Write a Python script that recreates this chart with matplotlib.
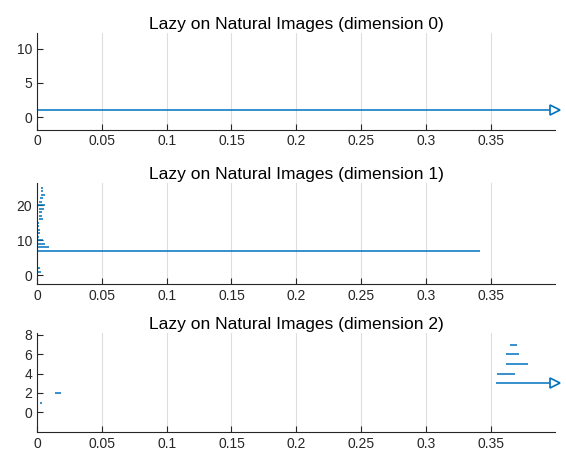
import numpy as np
import matplotlib
matplotlib.use("Agg")
import matplotlib.pyplot as plt

# -------------------------------
# DATA (persistence intervals)
# -------------------------------
INF = np.inf

dim0_birth = [0.0, 0.0, 0.0, 0.0, 0.0, 0.0, 0.0, 0.0, 0.0, 0.0, 0.0]
dim0_death = [INF, 0.0008, 0.0008, 0.0008, 0.0008, 0.0008, 0.0008, 0.0008, 0.0008, 0.0008, 0.0008]

dim1_birth = [0.0, 0.0, 0.0, 0.0, 0.0, 0.0, 0.0, 0.0, 0.0, 0.0,
              0.0, 0.0, 0.0, 0.0, 0.0, 0.0012, 0.0012, 0.0012, 0.0015, 0.0,
              0.0015, 0.0023, 0.003, 0.003, 0.003]
dim1_death = [0.003, 0.002, 0.001, 0.0008, 0.001, 0.001, 0.3415, 0.0095, 0.0064, 0.0046,
              0.0018, 0.002, 0.002, 0.0018, 0.0015, 0.005, 0.004, 0.004, 0.0056, 0.006,
              0.0039, 0.0049, 0.0064, 0.0046, 0.0049]

dim2_birth = [0.0023, 0.0139, 0.354, 0.3545, 0.362, 0.362, 0.365]
dim2_death = [0.0039, 0.0185, INF, 0.3685, 0.379, 0.372, 0.370]

titles = ["Lazy on Natural Images (dimension 0)",
          "Lazy on Natural Images (dimension 1)",
          "Lazy on Natural Images (dimension 2)"]
x_ticks = [0, 0.05, 0.1, 0.15, 0.2, 0.25, 0.3, 0.35]
x_labels = ["0", "0.05", "0.1", "0.15", "0.2", "0.25", "0.3", "0.35"]
y_ticks = [[0, 5, 10], [0, 10, 20], [0, 2, 4, 6, 8]]
y_lims = [(-1.8, 12.3), (-2.5, 26.3), (-2.05, 8.2)]
x_max = 0.3995

# -------------------------------
# STYLE
# -------------------------------
plt.rcParams['font.family'] = ['Liberation Sans', 'DejaVu Sans']
blue = "#0072BD"
axis_col = "#262626"

fig = plt.figure(figsize=(5.66, 4.58), dpi=100)
positions = [[0.0654, 0.7172, 0.915, 0.2107],
             [0.0654, 0.3799, 0.915, 0.2205],
             [0.0654, 0.0568, 0.915, 0.2162]]

data = [(dim0_birth, dim0_death), (dim1_birth, dim1_death), (dim2_birth, dim2_death)]

for k in range(3):
    ax = fig.add_axes(positions[k])
    births, deaths = data[k]
    for i in range(len(births)):
        y = i + 1
        if np.isinf(deaths[i]):
            ax.plot([births[i], x_max], [y, y], color=blue, lw=1.1, solid_capstyle='butt')
            ax.plot([x_max], [y], marker='>', markersize=7.5, markerfacecolor='white',
                    markeredgecolor=blue, markeredgewidth=1.2, clip_on=False, zorder=5)
        else:
            ax.plot([births[i], deaths[i]], [y, y], color=blue, lw=1.1, solid_capstyle='butt')

    ax.set_xlim(0, x_max)
    ax.set_ylim(*y_lims[k])
    ax.set_xticks(x_ticks)
    ax.set_xticklabels(x_labels)
    ax.set_yticks(y_ticks[k])
    ax.set_title(titles[k], fontsize=12.5, color='black', pad=3)

    ax.spines['top'].set_visible(False)
    ax.spines['right'].set_visible(False)
    for s in ['left', 'bottom']:
        ax.spines[s].set_color(axis_col)
        ax.spines[s].set_linewidth(0.8)
    ax.tick_params(direction='in', length=4, width=0.8, colors=axis_col,
                   labelcolor=axis_col, labelsize=10)
    ax.grid(axis='x', color='#262626', alpha=0.15, lw=0.8)
    ax.set_axisbelow(True)

plt.savefig("out.png", dpi=100)
plt.close()
